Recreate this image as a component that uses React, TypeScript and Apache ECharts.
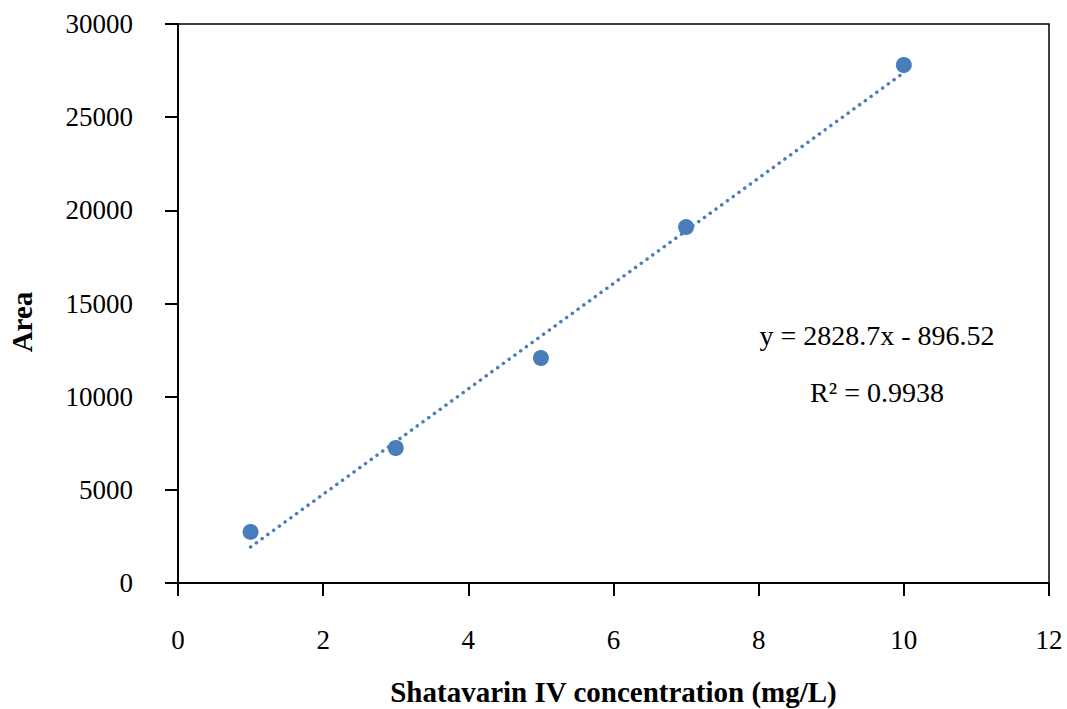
import React, { useEffect, useRef } from "react";
import * as echarts from "echarts";

const concentrations = [1, 3, 5, 7, 10];
const areas = [2740, 7245, 12075, 19100, 27800];
const slope = 2828.7;
const intercept = -896.52;
const equationText = "y = 2828.7x - 896.52";
const r2Text = "R² = 0.9938";
const xTitle = "Shatavarin IV concentration (mg/L)";
const yTitle = "Area";

export default function App() {
  const ref = useRef<HTMLDivElement>(null);
  useEffect(() => {
    const chart = echarts.init(ref.current!, null, { renderer: "svg" });
    const font = "'Liberation Serif', 'Times New Roman', serif";
    const xMin = concentrations[0];
    const xMax = concentrations[concentrations.length - 1];
    const trend = [
      [xMin, slope * xMin + intercept],
      [xMax, slope * xMax + intercept],
    ];
    chart.setOption({
      animation: false,
      backgroundColor: "#fff",
      textStyle: { fontFamily: font },
      grid: {
        left: 178,
        right: 18,
        top: 24,
        bottom: 126,
        containLabel: false,
        outerBoundsMode: "none",
        show: true,
        borderColor: "#000",
        borderWidth: 1.5,
      },
      xAxis: {
        type: "value",
        min: 0,
        max: 12,
        interval: 2,
        name: xTitle,
        nameLocation: "middle",
        nameGap: 94,
        nameTextStyle: { fontFamily: font, fontSize: 29, fontWeight: "bold", color: "#000" },
        axisLine: { show: true, lineStyle: { color: "#000", width: 2 } },
        axisTick: { show: true, length: 13, lineStyle: { color: "#000", width: 2 } },
        axisLabel: { margin: 43, fontFamily: font, fontSize: 27, color: "#000" },
        splitLine: { show: false },
      },
      yAxis: {
        type: "value",
        min: 0,
        max: 30000,
        interval: 5000,
        axisLine: { show: true, lineStyle: { color: "#000", width: 2 } },
        axisTick: { show: true, length: 13, lineStyle: { color: "#000", width: 2 } },
        axisLabel: { margin: 45, fontFamily: font, fontSize: 27, color: "#000", formatter: (v: number) => String(v) },
        splitLine: { show: false },
      },
      series: [
        {
          type: "line",
          data: trend,
          symbol: "none",
          lineStyle: { color: "#4A7EBB", width: 3.5, type: [0.1, 7], cap: "round" },
          z: 2,
        },
        {
          type: "scatter",
          data: concentrations.map((c, i) => [c, areas[i]]),
          symbolSize: 16,
          itemStyle: { color: "#4A7EBB", opacity: 1 },
          z: 3,
        },
      ],
      graphic: [
        {
          type: "text",
          x: 22,
          y: 322,
          rotation: Math.PI / 2,
          style: { text: yTitle, font: `bold 29px ${font}`, fill: "#000", align: "center", verticalAlign: "middle" },
        },
        {
          type: "text",
          x: 877,
          y: 335,
          style: { text: equationText, font: `28px ${font}`, fill: "#000", align: "center", verticalAlign: "middle" },
        },
        {
          type: "text",
          x: 877,
          y: 392,
          style: { text: r2Text, font: `28px ${font}`, fill: "#000", align: "center", verticalAlign: "middle" },
        },
      ],
    });
    return () => chart.dispose();
  }, []);
  return <div ref={ref} style={{ width: 1067, height: 709, position: "absolute", left: 0, top: 0 }} />;
}
